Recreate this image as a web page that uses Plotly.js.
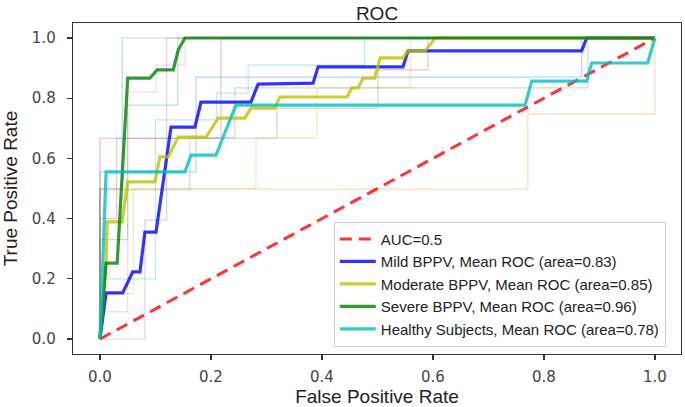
<!DOCTYPE html>
<html>
<head>
<meta charset="utf-8">
<script src="https://cdn.plot.ly/plotly-3.0.1.min.js"></script>
<style>html,body{margin:0;padding:0;background:#fff;}#chart{width:685px;height:407px;}</style>
</head>
<body>
<div id="chart"></div>
<script>
// ---- Mean ROC curves ----
const mildFPR = [0, 0.011, 0.041, 0.059, 0.072, 0.081, 0.101, 0.117, 0.128, 0.171, 0.182, 0.272, 0.285, 0.384, 0.393, 0.546, 0.555, 0.868, 0.877, 1.0];
const mildTPR = [0, 0.153, 0.153, 0.223, 0.223, 0.355, 0.355, 0.561, 0.704, 0.704, 0.787, 0.787, 0.847, 0.850, 0.904, 0.904, 0.957, 0.957, 1.0, 1.0];

const moderateFPR = [0, 0.011, 0.013, 0.040, 0.050, 0.099, 0.108, 0.123, 0.141, 0.191, 0.213, 0.261, 0.272, 0.315, 0.324, 0.445, 0.454, 0.465, 0.474, 0.495, 0.505, 0.546, 0.555, 0.586, 0.604, 1.0];
const moderateTPR = [0, 0.256, 0.389, 0.389, 0.522, 0.522, 0.605, 0.605, 0.671, 0.671, 0.734, 0.734, 0.767, 0.767, 0.804, 0.804, 0.834, 0.834, 0.867, 0.867, 0.934, 0.934, 0.957, 0.957, 1.0, 1.0];

const severeFPR = [0, 0.011, 0.031, 0.050, 0.090, 0.103, 0.132, 0.141, 0.153, 1.0];
const severeTPR = [0, 0.252, 0.252, 0.867, 0.867, 0.894, 0.894, 0.960, 1.0, 1.0];

const healthyFPR = [0, 0.011, 0.153, 0.164, 0.209, 0.222, 0.234, 0.245, 0.766, 0.778, 0.877, 0.886, 0.987, 1.0];
const healthyTPR = [0, 0.555, 0.555, 0.611, 0.611, 0.671, 0.728, 0.777, 0.777, 0.857, 0.857, 0.917, 0.917, 1.0];

const chanceFPR = [0, 1];
const chanceTPR = [0, 1];

// ---- Individual fold ROC curves (faint) ----
const foldBlueFPR = [0, 0, 0.040, 0.040, 1.0];
const foldBlueTPR = [0, 0.50, 0.50, 1.0, 1.0];
const foldOrangeFPR = [0, 0, 0.771, 0.771, 1.0, 1.0];
const foldOrangeTPR = [0, 0.498, 0.498, 0.747, 0.747, 1.0];
const foldGreenFPR = [0, 0, 0.050, 0.050, 0.140, 0.140, 1.0];
const foldGreenTPR = [0, 0.33, 0.33, 0.777, 0.777, 1.0, 1.0];
const foldRedFPR = [0, 0, 0.218, 0.218, 1.0];
const foldRedTPR = [0, 0.667, 0.667, 1.0, 1.0];
const foldPurpleFPR = [0, 0.081, 0.081, 0.120, 0.120, 1.0];
const foldPurpleTPR = [0, 0, 0.395, 0.395, 1.0, 1.0];
const foldBrownFPR = [0, 0, 0.030, 0.030, 0.319, 0.319, 0.501, 0.501, 0.591, 0.591, 1.0];
const foldBrownTPR = [0, 0.40, 0.40, 0.667, 0.667, 0.767, 0.767, 0.894, 0.894, 1.0, 1.0];
const foldPinkFPR = [0, 0, 0.050, 0.050, 0.101, 0.101, 0.153, 0.153, 1.0];
const foldPinkTPR = [0, 0.09, 0.09, 0.82, 0.82, 0.91, 0.91, 1.0, 1.0];
const foldGrayFPR = [0, 0, 0.162, 0.162, 0.243, 0.243, 0.879, 0.879, 1.0];
const foldGrayTPR = [0, 0.495, 0.495, 0.668, 0.668, 0.834, 0.834, 1.0, 1.0];
const foldOliveFPR = [0, 0, 0.060, 0.060, 0.281, 0.281, 0.391, 0.391, 0.559, 0.559, 1.0];
const foldOliveTPR = [0, 0.15, 0.15, 0.50, 0.50, 0.668, 0.668, 0.834, 0.834, 1.0, 1.0];
const foldCyanFPR = [0, 0, 0.100, 0.100, 0.210, 0.210, 0.267, 0.267, 0.477, 0.477, 1.0];
const foldCyanTPR = [0, 0.20, 0.20, 0.728, 0.728, 0.817, 0.817, 0.910, 0.910, 1.0, 1.0];
const foldBlue2FPR = [0, 0, 0.173, 0.173, 0.868, 0.868, 1.0];
const foldBlue2TPR = [0, 0.555, 0.555, 0.870, 0.870, 1.0, 1.0];

const tickVals = [0, 0.2, 0.4, 0.6, 0.8, 1.0];
const tickText = ["0.0", "0.2", "0.4", "0.6", "0.8", "1.0"];

const legendNames = [
  "AUC=0.5",
  "Mild BPPV, Mean ROC (area=0.83)",
  "Moderate BPPV, Mean ROC (area=0.85)",
  "Severe BPPV, Mean ROC (area=0.96)",
  "Healthy Subjects, Mean ROC (area=0.78)"
];

function fold(x, y, color) {
  return {x: x, y: y, type: 'scatter', mode: 'lines', showlegend: false, hoverinfo: 'skip',
          opacity: 0.3, line: {color: color, width: 1.2}};
}

const traces = [
  fold(foldBlueFPR, foldBlueTPR, '#1f77b4'),
  fold(foldOrangeFPR, foldOrangeTPR, '#ff7f0e'),
  fold(foldGreenFPR, foldGreenTPR, '#2ca02c'),
  fold(foldRedFPR, foldRedTPR, '#d62728'),
  fold(foldPurpleFPR, foldPurpleTPR, '#9467bd'),
  fold(foldBrownFPR, foldBrownTPR, '#8c564b'),
  fold(foldPinkFPR, foldPinkTPR, '#e377c2'),
  fold(foldGrayFPR, foldGrayTPR, '#7f7f7f'),
  fold(foldOliveFPR, foldOliveTPR, '#bcbd22'),
  fold(foldCyanFPR, foldCyanTPR, '#17becf'),
  fold(foldBlue2FPR, foldBlue2TPR, '#1f77b4'),
  {x: chanceFPR, y: chanceTPR, type: 'scatter', mode: 'lines', name: legendNames[0],
   opacity: 0.8, line: {color: '#ff0000', width: 3, dash: '12px,7px'}},
  {x: mildFPR, y: mildTPR, type: 'scatter', mode: 'lines', name: legendNames[1],
   opacity: 0.8, line: {color: '#0000ff', width: 3.2}},
  {x: moderateFPR, y: moderateTPR, type: 'scatter', mode: 'lines', name: legendNames[2],
   opacity: 0.8, line: {color: '#bfbf00', width: 3.2}},
  {x: severeFPR, y: severeTPR, type: 'scatter', mode: 'lines', name: legendNames[3],
   opacity: 0.8, line: {color: '#008000', width: 3.2}},
  {x: healthyFPR, y: healthyTPR, type: 'scatter', mode: 'lines', name: legendNames[4],
   opacity: 0.8, line: {color: '#00bfbf', width: 3.2}}
];

const axisCommon = {
  showgrid: false, zeroline: false, showline: true, mirror: true,
  linecolor: '#333', linewidth: 1.3, ticks: 'outside', ticklen: 5, tickwidth: 1.2, tickcolor: '#333',
  tickvals: tickVals, ticktext: tickText,
  tickfont: {family: 'DejaVu Sans', size: 15, color: '#444'}
};

const layout = {
  width: 685, height: 407,
  margin: {l: 73, r: 4, t: 23, b: 53},
  paper_bgcolor: '#fff', plot_bgcolor: '#fff',
  title: {text: 'ROC', font: {family: 'Liberation Sans', size: 19, color: '#222'},
          xref: 'paper', x: 0.5, xanchor: 'center', yref: 'container', y: 0.968, yanchor: 'middle'},
  xaxis: Object.assign({}, axisCommon, {
    range: [-0.0486, 1.047],
    ticklabelstandoff: 4,
    title: {text: 'False Positive Rate', font: {family: 'Liberation Sans', size: 19, color: '#222'}, standoff: 6}
  }),
  yaxis: Object.assign({}, axisCommon, {
    range: [-0.0498, 1.0498],
    ticklabelstandoff: 8,
    title: {text: 'True Positive Rate', font: {family: 'Liberation Sans', size: 19, color: '#222'}, standoff: 10}
  }),
  legend: {
    x: 0.975, xanchor: 'right', y: 0.022, yanchor: 'bottom',
    bgcolor: 'rgba(255,255,255,0.85)', bordercolor: '#cccccc', borderwidth: 1,
    font: {family: 'Liberation Sans', size: 15, color: '#222'},
    itemwidth: 36, tracegroupgap: 0
  },
  showlegend: true
};

Plotly.newPlot('chart', traces, layout, {displayModeBar: false, staticPlot: true});
</script>
</body>
</html>
